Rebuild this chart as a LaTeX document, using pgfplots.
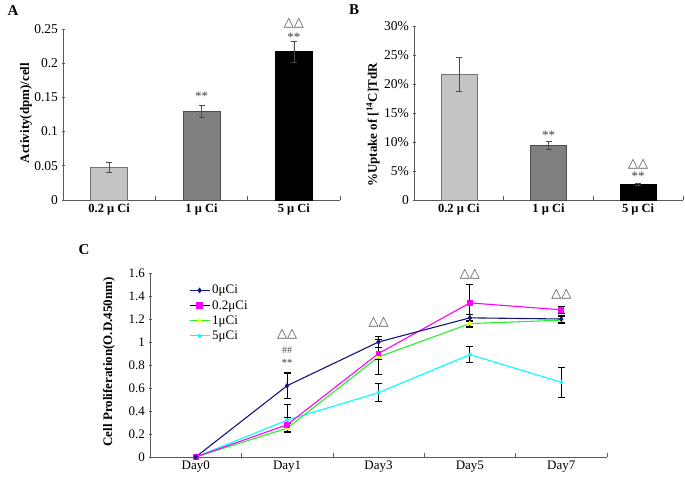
\documentclass[border=0pt]{standalone}
\usepackage{fontspec}
\setmainfont{Liberation Serif}
\newfontfamily\sym{DejaVu Sans}
\usepackage{pgfplots}
\pgfplotsset{compat=1.18}
\definecolor{lightbar}{RGB}{196,196,196}
\definecolor{midbar}{RGB}{128,128,128}
\definecolor{navyc}{RGB}{20,20,130}
\definecolor{cyanc}{RGB}{0,255,255}
\definecolor{magc}{RGB}{255,0,255}
\definecolor{greenc}{RGB}{40,240,40}
\definecolor{yellc}{RGB}{255,255,0}
\begin{document}
\begin{tikzpicture}
\useasboundingbox (0pt,0pt) rectangle (685pt,478pt);
\pgfplotsset{
  base/.style={
    scale only axis, axis lines=left,
    axis line style={-, black!65, line width=0.8pt},
    tick style={black!65, line width=0.6pt}, major tick length=3pt, minor tick length=4pt,
    tick label style={font=\fontsize{13.5}{15}\selectfont},
    /pgf/number format/assume math mode=true,
    major x tick style={draw=none},
    xtick align=inside,
    clip=false,
  },
  ebar/.style={error bars/.cd, y dir=both, y explicit,
    error bar style={draw=black!70, line width=0.6pt, solid},
    error mark options={rotate=90, mark size=3pt, draw=black!70, line width=0.6pt}},
  ebarC/.style={draw=none, mark=none, forget plot, error bars/.cd, y dir=both, y explicit,
    error bar style={draw=black, line width=1.1pt, solid},
    error mark options={rotate=90, mark size=3.5pt, draw=black, line width=1.1pt}},
}
% ---------- Panel A ----------
\begin{axis}[base, at={(63pt,278pt)}, anchor=south west, width=277pt, height=171pt,
  xmin=-0.5, xmax=2.5, ymin=0, ymax=0.25,
  ytick={0,0.05,0.1,0.15,0.2,0.25}, yticklabels={0,0.05,0.1,0.15,0.2,0.25},
  xtick={0,1,2}, xticklabels={\textbf{0.2 μ Ci},\textbf{1 μ Ci},\textbf{5 μ Ci}},
  x tick label style={font=\fontsize{12.5}{14}\selectfont},
  minor xtick={0.5,1.5,2.5}]
\addplot[ybar, bar width=37pt, fill=lightbar, draw=black!55, ebar] coordinates {(0,0.048) +- (0,0.007)};
\addplot[ybar, bar width=37pt, fill=midbar, draw=black!70, ebar] coordinates {(1,0.130) +- (0,0.009)};
\addplot[ybar, bar width=37pt, fill=black, draw=black, ebar] coordinates {(2,0.217) +- (0,0.015)};
\node[font=\fontsize{13}{13}\selectfont, black!75] at (axis cs:1,0.151) {**};
\node[font=\fontsize{13}{13}\selectfont, black!75] at (axis cs:2,0.238) {**};
\node[font=\sym\fontsize{13}{13}\selectfont, black!70] at (axis cs:2,0.258) {△△};
\end{axis}
% ---------- Panel B ----------
\begin{axis}[base, at={(414pt,278pt)}, anchor=south west, width=269pt, height=174pt,
  xmin=-0.5, xmax=2.5, ymin=0, ymax=30,
  ytick={0,5,10,15,20,25,30}, yticklabels={0,5\%,10\%,15\%,20\%,25\%,30\%},
  xtick={0,1,2}, xticklabels={\textbf{0.2 μ Ci},\textbf{1 μ Ci},\textbf{5 μ Ci}},
  x tick label style={font=\fontsize{12.5}{14}\selectfont},
  minor xtick={0.5,1.5,2.5}]
\addplot[ybar, bar width=36pt, fill=lightbar, draw=black!55, ebar] coordinates {(0,21.7) +- (0,2.9)};
\addplot[ybar, bar width=36pt, fill=midbar, draw=black!70, ebar] coordinates {(1,9.4) +- (0,0.7)};
\addplot[ybar, bar width=36pt, fill=black, draw=black, ebar] coordinates {(2,2.7) +- (0,0.25)};
\node[font=\fontsize{13}{13}\selectfont, black!75] at (axis cs:1,11.2) {**};
\node[font=\fontsize{13}{13}\selectfont, black!75] at (axis cs:2,4.1) {**};
\node[font=\sym\fontsize{13}{13}\selectfont, black!70] at (axis cs:2,6.1) {△△};
\end{axis}
% ---------- Panel C ----------
\begin{axis}[base, at={(150pt,21pt)}, anchor=south west, width=457pt, height=184pt,
  xmin=-0.5, xmax=4.5, ymin=0, ymax=1.6,
  ytick={0,0.2,0.4,0.6,0.8,1,1.2,1.4,1.6}, yticklabels={0,0.2,0.4,0.6,0.8,1,1.2,1.4,1.6},
  xtick={0,1,2,3,4}, xticklabels={Day0,Day1,Day3,Day5,Day7},
  tick label style={font=\fontsize{13}{14}\selectfont},
  minor xtick={0.5,1.5,2.5,3.5,4.5},
  legend style={at={(axis description cs:0.085,0.945)}, anchor=north west, draw=none, fill=none,
    font=\fontsize{13}{14}\selectfont, row sep=1pt, inner sep=0pt},
  legend image code/.code={\draw[mark repeat=2,mark phase=2,#1] plot coordinates {(0pt,0pt) (10pt,0pt) (20pt,0pt)};},
  legend cell align=left]
\addlegendimage{navyc, line width=1.1pt, mark=diamond*, mark size=2pt}
\addlegendentry{0μCi}
\addlegendimage{black, line width=1.1pt, mark=square*, mark size=2.6pt, mark options={fill=magc, draw=magc}}
\addlegendentry{0.2μCi}
\addlegendimage{greenc, line width=1.1pt, mark=triangle*, mark size=2.2pt, mark options={fill=yellc, draw=yellc}}
\addlegendentry{1μCi}
\addlegendimage{cyanc, line width=1.1pt, mark=asterisk, mark size=2pt}
\addlegendentry{5μCi}
% lines
\addplot[forget plot, cyanc, line width=1.1pt, mark=asterisk, mark size=2pt] coordinates {(0,0) (1,0.32) (2,0.56) (3,0.89) (4,0.65)};
\addplot[forget plot, greenc, line width=1.1pt, mark=triangle*, mark size=2.2pt, mark options={fill=yellc, draw=yellc}] coordinates {(0,0) (1,0.25) (2,0.87) (3,1.16) (4,1.19)};
\addplot[forget plot, magc, line width=1.1pt, mark=square*, mark size=2.4pt] coordinates {(0,0) (1,0.28) (2,0.90) (3,1.34) (4,1.28)};
\addplot[forget plot, navyc, line width=1.1pt, mark=diamond*, mark size=2pt] coordinates {(0,0) (1,0.62) (2,1.00) (3,1.21) (4,1.20)};
% error bars
\addplot[ebarC] coordinates {(1,0.62) +- (0,0.11) (2,1.00) +- (0,0.05) (3,1.21) +- (0,0.03) (4,1.20) +- (0,0.03)};
\addplot[ebarC] coordinates {(1,0.28) +- (0,0.06) (2,0.90) +- (0,0.05) (3,1.34) +- (0,0.16) (4,1.28) +- (0,0.03)};
\addplot[ebarC] coordinates {(1,0.25) +- (0,0.04) (2,0.87) +- (0,0.15) (3,1.16) +- (0,0.03) (4,1.19) +- (0,0.03)};
\addplot[ebarC] coordinates {(1,0.40) +- (0,0.06) (2,0.56) +- (0,0.08) (3,0.89) +- (0,0.07) (4,0.65) +- (0,0.13)};
% annotations
\node[font=\sym\fontsize{13}{13}\selectfont, black!70] at (axis cs:1,1.07) {△△};
\node[font=\fontsize{10}{10}\selectfont, black!70] at (axis cs:1,0.93) {\#\#};
\node[font=\fontsize{11}{11}\selectfont, black!75] at (axis cs:1,0.82) {**};
\node[font=\sym\fontsize{13}{13}\selectfont, black!70] at (axis cs:2,1.17) {△△};
\node[font=\sym\fontsize{13}{13}\selectfont, black!70] at (axis cs:3,1.59) {△△};
\node[font=\sym\fontsize{13}{13}\selectfont, black!70] at (axis cs:4,1.42) {△△};
\end{axis}
% ---------- panel letters and y labels ----------
\node[font=\bfseries\fontsize{15}{15}\selectfont] at (13pt,467pt) {A};
\node[font=\bfseries\fontsize{15}{15}\selectfont] at (354pt,468pt) {B};
\node[font=\bfseries\fontsize{15}{15}\selectfont] at (84pt,228pt) {C};
\node[rotate=90, font=\bfseries\fontsize{13}{13}\selectfont] at (26pt,365pt) {Activity(dpm)/cell};
\node[rotate=90, font=\bfseries\fontsize{13}{13}\selectfont] at (373pt,353pt) {\%Uptake of [\textsuperscript{14}C]TdR};
\node[rotate=90, font=\bfseries\fontsize{13}{13}\selectfont] at (109pt,116pt) {Cell Proliferation(O.D.450nm)};
\end{tikzpicture}
\end{document}
